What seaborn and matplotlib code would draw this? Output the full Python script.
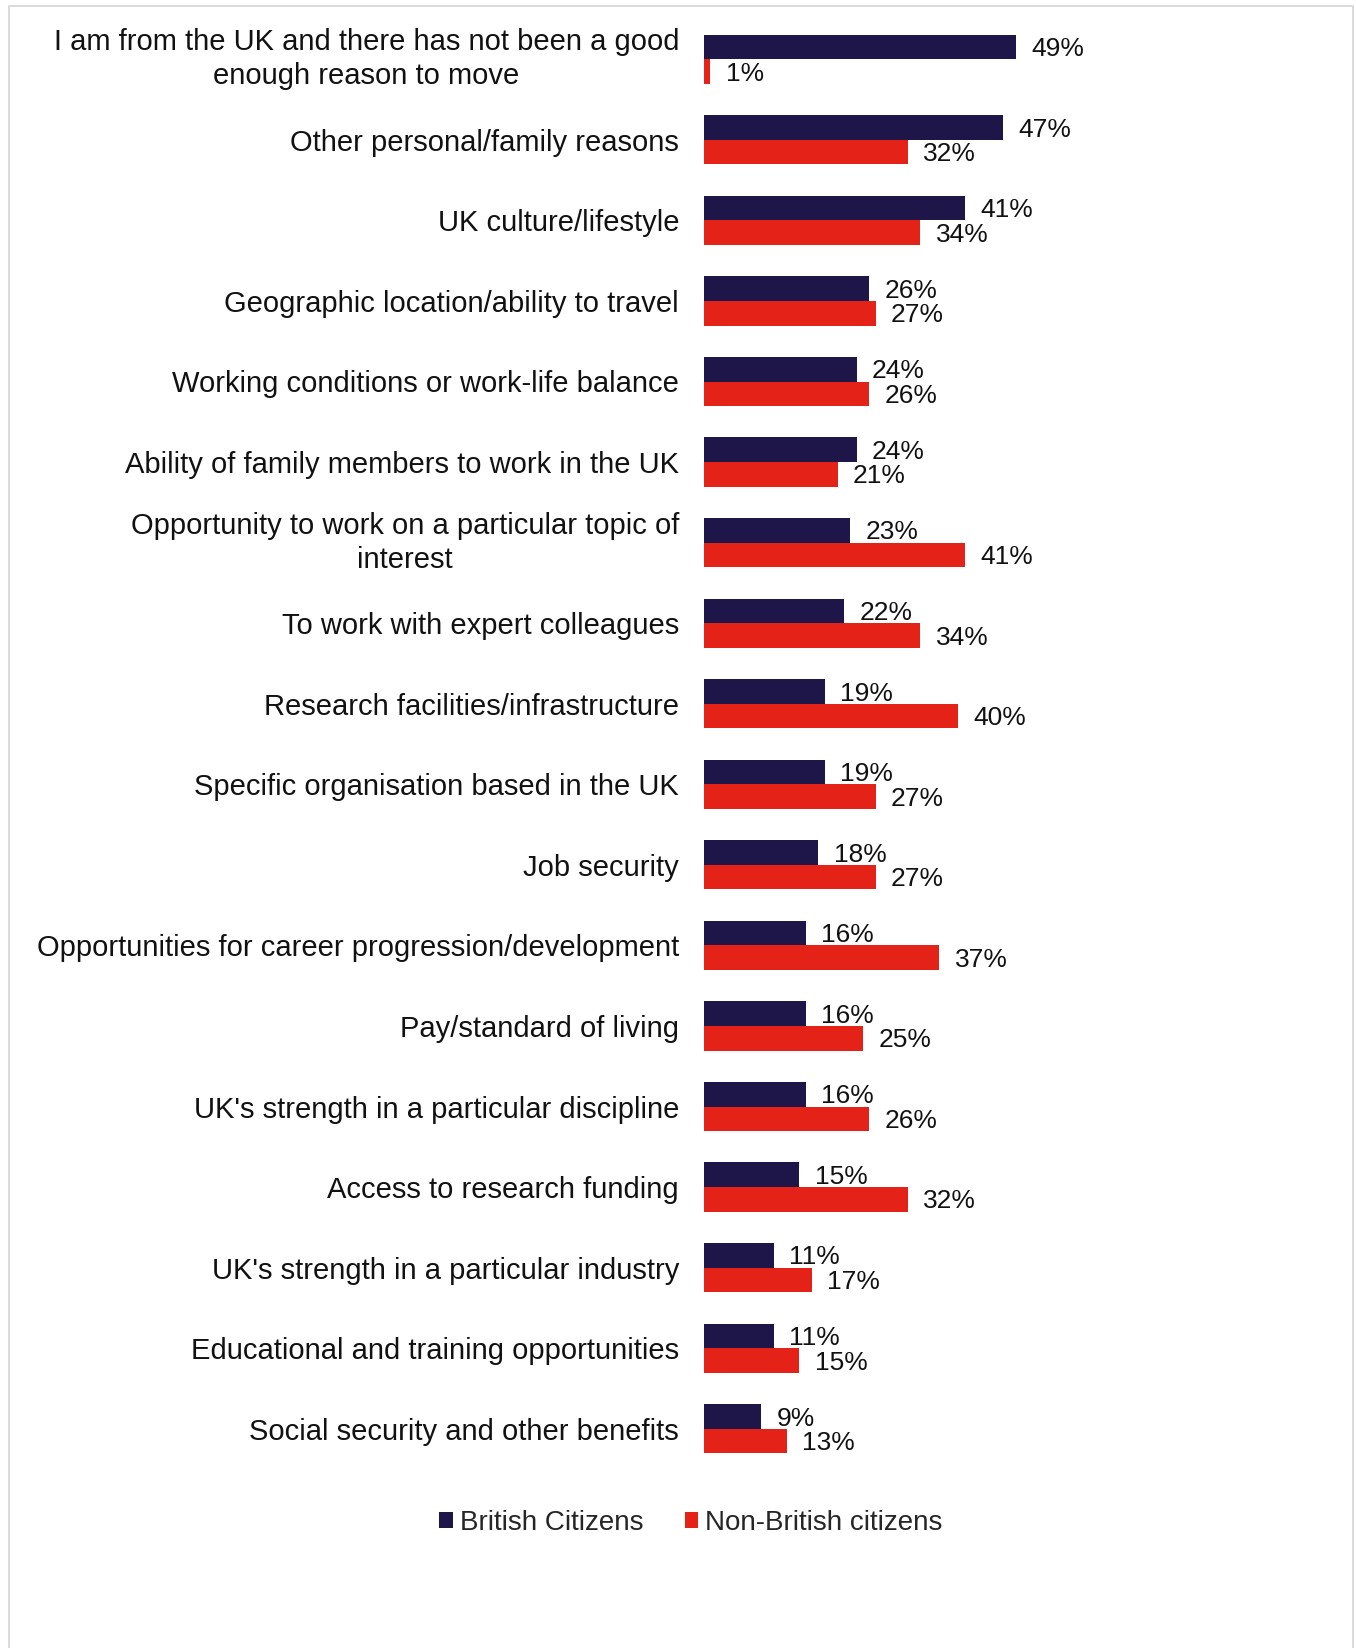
import matplotlib
matplotlib.use("Agg")
import matplotlib.pyplot as plt
import seaborn as sns
import pandas as pd
from matplotlib.patches import Patch, Rectangle

reasons = [
    "I am from the UK and there has not been a good\nenough reason to move",
    "Other personal/family reasons",
    "UK culture/lifestyle",
    "Geographic location/ability to travel",
    "Working conditions or work-life balance",
    "Ability of family members to work in the UK",
    "Opportunity to work on a particular topic of\ninterest",
    "To work with expert colleagues",
    "Research facilities/infrastructure",
    "Specific organisation based in the UK",
    "Job security",
    "Opportunities for career progression/development",
    "Pay/standard of living",
    "UK's strength in a particular discipline",
    "Access to research funding",
    "UK's strength in a particular industry",
    "Educational and training opportunities",
    "Social security and other benefits",
]
british = [49, 47, 41, 26, 24, 24, 23, 22, 19, 19, 18, 16, 16, 16, 15, 11, 11, 9]
non_british = [1, 32, 34, 27, 26, 21, 41, 34, 40, 27, 27, 37, 25, 26, 32, 17, 15, 13]
groups = ["British Citizens", "Non-British citizens"]
colors = ["#1E1548", "#E42217"]

df = pd.DataFrame({
    "reason": reasons * 2,
    "share": british + non_british,
    "group": [groups[0]] * len(reasons) + [groups[1]] * len(reasons),
})

sns.set_theme(style="white")
plt.rcParams["font.family"] = ["Liberation Sans", "DejaVu Sans"]

W, H = 1356, 1648
fig = plt.figure(figsize=(W / 100, H / 100), dpi=100)
ax = fig.add_axes([704 / W, 1 - 1469 / H, 636 / W, (1469 - 19) / H])

sns.barplot(data=df, y="reason", x="share", hue="group", hue_order=groups,
            order=reasons, palette=colors, orient="h", width=0.61,
            saturation=1, legend=False, ax=ax, linewidth=0)

for cont, vals in zip(ax.containers, [british, non_british]):
    txts = ax.bar_label(cont, labels=[f"{v}%" for v in vals], padding=11,
                        fontsize=19, color="#111111")
    # sit the value labels slightly below the bar centres
    for t in txts:
        t.xyann = (t.xyann[0], t.xyann[1] - 1.5)

ax.set_xlim(0, 100)
ax.set_xlabel("")
ax.set_ylabel("")
ax.set_xticks([])
ax.tick_params(axis="y", length=0, pad=18, labelsize=21, labelcolor="#111111")
for lbl in ax.get_yticklabels():
    lbl.set_multialignment("center")
    lbl.set_linespacing(1.28)
    if "\n" in lbl.get_text():
        lbl.set_verticalalignment("center")
for s in ax.spines.values():
    s.set_visible(False)

handles = [Patch(facecolor=c, edgecolor="none") for c in colors]
fig.legend(handles, groups, loc="center", bbox_to_anchor=(691 / W, 1 - 1523 / H),
           ncol=2, frameon=False, fontsize=20, handlelength=0.48,
           handleheight=0.48, handletextpad=0.25, columnspacing=1.5)

fig.add_artist(Rectangle((8.5 / W, -0.02), (1353 - 8.5) / W, 1.02 - 6 / H,
                         transform=fig.transFigure, fill=False,
                         edgecolor="#d4d4d4", linewidth=1.2))

fig.savefig("out.png", dpi=100, facecolor="white")
